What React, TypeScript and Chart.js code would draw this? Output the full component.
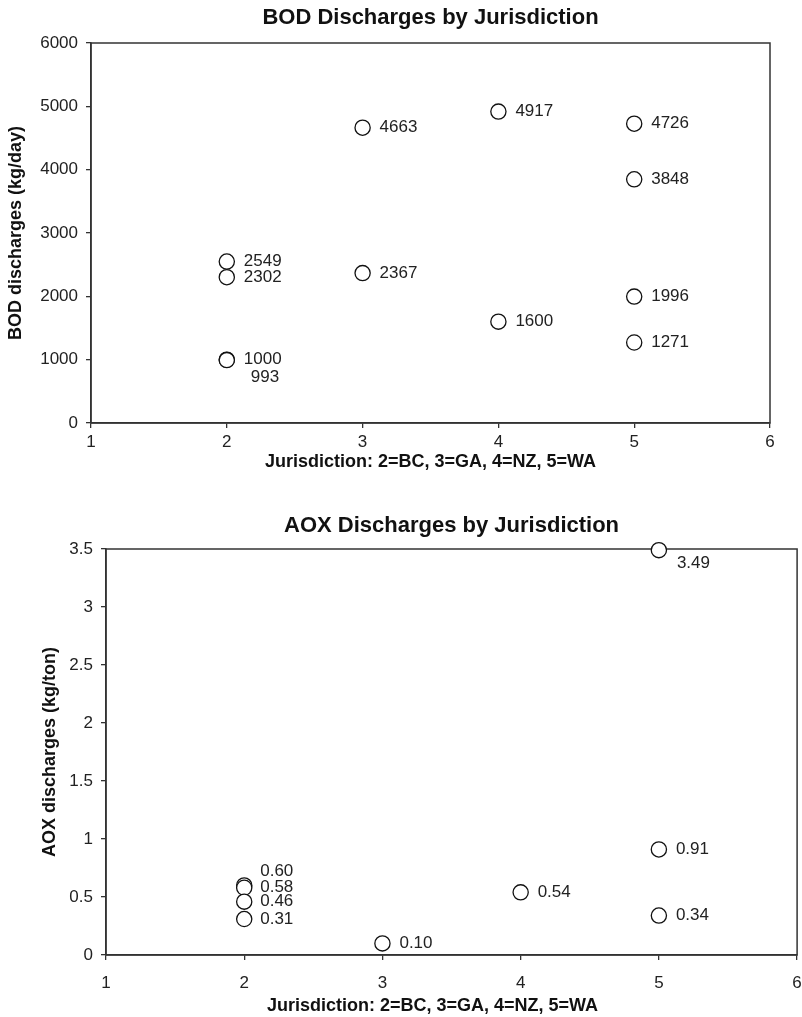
import React, { useEffect, useRef } from "react";
import { Chart, registerables } from "chart.js";

Chart.register(...registerables);

const FONT = '"Liberation Sans", Arial, Helvetica, sans-serif';

// ---------- data ----------
const bodJurisdiction = [2, 2, 2, 2, 3, 3, 4, 4, 5, 5, 5, 5];
const bodValues = [2549, 2302, 1000, 993, 4663, 2367, 4917, 1600, 4726, 3848, 1996, 1271];

const aoxJurisdiction = [2, 2, 2, 2, 3, 4, 5, 5, 5];
const aoxValues = [0.6, 0.58, 0.46, 0.31, 0.1, 0.54, 3.49, 0.91, 0.34];

const xTickValues = [1, 2, 3, 4, 5, 6];
const bodYTicks = [0, 1000, 2000, 3000, 4000, 5000, 6000];
const aoxYTicks = [0, 0.5, 1, 1.5, 2, 2.5, 3, 3.5];

const bodTitle = "BOD Discharges by Jurisdiction";
const aoxTitle = "AOX Discharges by Jurisdiction";
const xTitle = "Jurisdiction: 2=BC, 3=GA, 4=NZ, 5=WA";
const bodYTitle = "BOD discharges (kg/day)";
const aoxYTitle = "AOX discharges (kg/ton)";

// ---------- label placement (style) ----------
const bodLabelOffsets = [
  [17, 0], [17, 0], [17, 0], [24, 17], [17, 0], [17, 0],
  [17, 0], [17, 0], [17, 0], [17, 0], [17, 0], [17, 0],
];
const aoxLabelOffsets = [
  [16, -14], [16, 0], [16, 0], [16, 0], [17, 0], [17, 0], [18, 13], [17, 0], [17, 0],
];

const framePlugin = {
  id: "frame",
  beforeDatasetsDraw(chart: any) {
    const { ctx, chartArea } = chart;
    ctx.save();
    ctx.strokeStyle = "#333";
    ctx.lineWidth = 1.5;
    ctx.strokeRect(chartArea.left, chartArea.top, chartArea.right - chartArea.left, chartArea.bottom - chartArea.top);
    ctx.restore();
  },
};

const labelPlugin = {
  id: "pointLabels",
  afterDatasetsDraw(chart: any, _args: any, opts: any) {
    const meta = chart.getDatasetMeta(0);
    const ctx = chart.ctx;
    const values: number[] = opts.values;
    const offsets: number[][] = opts.offsets;
    ctx.save();
    ctx.font = `17px ${FONT}`;
    ctx.fillStyle = "#222";
    ctx.textBaseline = "middle";
    ctx.textAlign = "left";
    meta.data.forEach((el: any, i: number) => {
      const [dx, dy] = offsets[i];
      ctx.fillText(opts.format(values[i]), el.x + dx, el.y + dy);
    });
    ctx.restore();
  },
};

const titlesPlugin = {
  id: "titles",
  afterDraw(chart: any, _args: any, opts: any) {
    const { ctx, chartArea } = chart;
    const cx = (chartArea.left + chartArea.right) / 2;
    ctx.save();
    ctx.fillStyle = "#111";
    ctx.textAlign = "center";
    ctx.textBaseline = "middle";
    ctx.font = `bold 22px ${FONT}`;
    ctx.fillText(opts.title, cx, opts.titleY);
    ctx.font = `bold 18px ${FONT}`;
    ctx.fillText(opts.xTitle, cx + opts.xTitleShift, chartArea.bottom + opts.xTitleGap);
    ctx.restore();
  },
};

type Cfg = {
  xs: number[];
  ys: number[];
  yTicks: number[];
  title: string;
  yTitle: string;
  offsets: number[][];
  format: (v: number) => string;
  topPad: number;
  titleY: number;
  rightPad: number;
  yWidth: number;
  xHeight: number;
  yTitlePad: number;
  xTitleGap: number;
  xTitleShift: number;
  xTickPad: number;
};

function ScatterPanel({ cfg, width, height }: { cfg: Cfg; width: number; height: number }) {
  const ref = useRef<HTMLCanvasElement | null>(null);
  useEffect(() => {
    if (!ref.current) return;
    const yMin = cfg.yTicks[0];
    const yMax = cfg.yTicks[cfg.yTicks.length - 1];
    const chart = new Chart(ref.current, {
      type: "scatter",
      data: {
        datasets: [
          {
            data: cfg.xs.map((x, i) => ({ x, y: cfg.ys[i] })),
            pointStyle: "circle",
            pointRadius: 7.6,
            pointHoverRadius: 7.6,
            borderWidth: 1.3,
            borderColor: "#111",
            backgroundColor: "#fff",
            clip: false as any,
          },
        ],
      },
      options: {
        animation: false,
        responsive: true,
        maintainAspectRatio: false,
        events: [],
        layout: { padding: { top: cfg.topPad, left: 0, right: cfg.rightPad, bottom: 0 } },
        plugins: {
          legend: { display: false },
          tooltip: { enabled: false },
          title: { display: false },
          pointLabels: { values: cfg.ys, offsets: cfg.offsets, format: cfg.format },
          titles: { title: cfg.title, titleY: cfg.titleY, xTitle, xTitleGap: cfg.xTitleGap, xTitleShift: cfg.xTitleShift },
        } as any,
        scales: {
          x: {
            type: "linear",
            min: xTickValues[0],
            max: xTickValues[xTickValues.length - 1],
            afterBuildTicks: (scale: any) => {
              scale.ticks = xTickValues.map((v) => ({ value: v }));
            },
            ticks: {
              color: "#222",
              font: { family: FONT, size: 17 },
              padding: cfg.xTickPad,
              maxRotation: 0,
            },
            grid: { drawOnChartArea: false, drawTicks: true, tickLength: 5, color: "#333", lineWidth: 1.3 },
            border: { display: true, color: "#333", width: 1.5 },
            title: { display: false },
            afterFit: (scale: any) => {
              scale.height = cfg.xHeight;
              scale.paddingLeft = 0;
              scale.paddingRight = 0;
            },
          },
          y: {
            type: "linear",
            min: yMin,
            max: yMax,
            afterBuildTicks: (scale: any) => {
              scale.ticks = cfg.yTicks.map((v) => ({ value: v }));
            },
            ticks: {
              color: "#222",
              font: { family: FONT, size: 17 },
              padding: 8,
              callback: (v: any) => String(v),
            },
            grid: { drawOnChartArea: false, drawTicks: true, tickLength: 5, color: "#333", lineWidth: 1.3 },
            border: { display: true, color: "#333", width: 1.5 },
            title: {
              display: true,
              text: cfg.yTitle,
              color: "#111",
              font: { family: FONT, size: 18, weight: "bold" },
              padding: { top: cfg.yTitlePad, bottom: 0 },
            },
            afterFit: (scale: any) => {
              scale.width = cfg.yWidth;
              scale.paddingTop = 0;
              scale.paddingBottom = 0;
            },
          },
        },
      },
      plugins: [framePlugin, labelPlugin, titlesPlugin],
    } as any);
    return () => chart.destroy();
  }, [cfg]);
  return (
    <div style={{ position: "relative", width, height }}>
      <canvas ref={ref} />
    </div>
  );
}

const bodCfg: Cfg = {
  xs: bodJurisdiction,
  ys: bodValues,
  yTicks: bodYTicks,
  title: bodTitle,
  yTitle: bodYTitle,
  offsets: bodLabelOffsets,
  format: (v) => String(v),
  topPad: 43,
  titleY: 18,
  rightPad: 32,
  yWidth: 91,
  xHeight: 67,
  yTitlePad: 5,
  xTitleGap: 39,
  xTitleShift: 0,
  xTickPad: 4,
};

const aoxCfg: Cfg = {
  xs: aoxJurisdiction,
  ys: aoxValues,
  yTicks: aoxYTicks,
  title: aoxTitle,
  yTitle: aoxYTitle,
  offsets: aoxLabelOffsets,
  format: (v) => v.toFixed(2),
  topPad: 59,
  titleY: 36,
  rightPad: 1,
  yWidth: 106,
  xHeight: 62,
  yTitlePad: 39,
  xTitleGap: 51,
  xTitleShift: -19,
  xTickPad: 13,
};

export default function App() {
  return (
    <div
      style={{
        position: "absolute",
        left: 0,
        top: 0,
        width: 802,
        height: 1017,
        overflow: "hidden",
        background: "#fff",
      }}
    >
      <ScatterPanel cfg={bodCfg} width={802} height={490} />
      <ScatterPanel cfg={aoxCfg} width={806} height={527} />
    </div>
  );
}
